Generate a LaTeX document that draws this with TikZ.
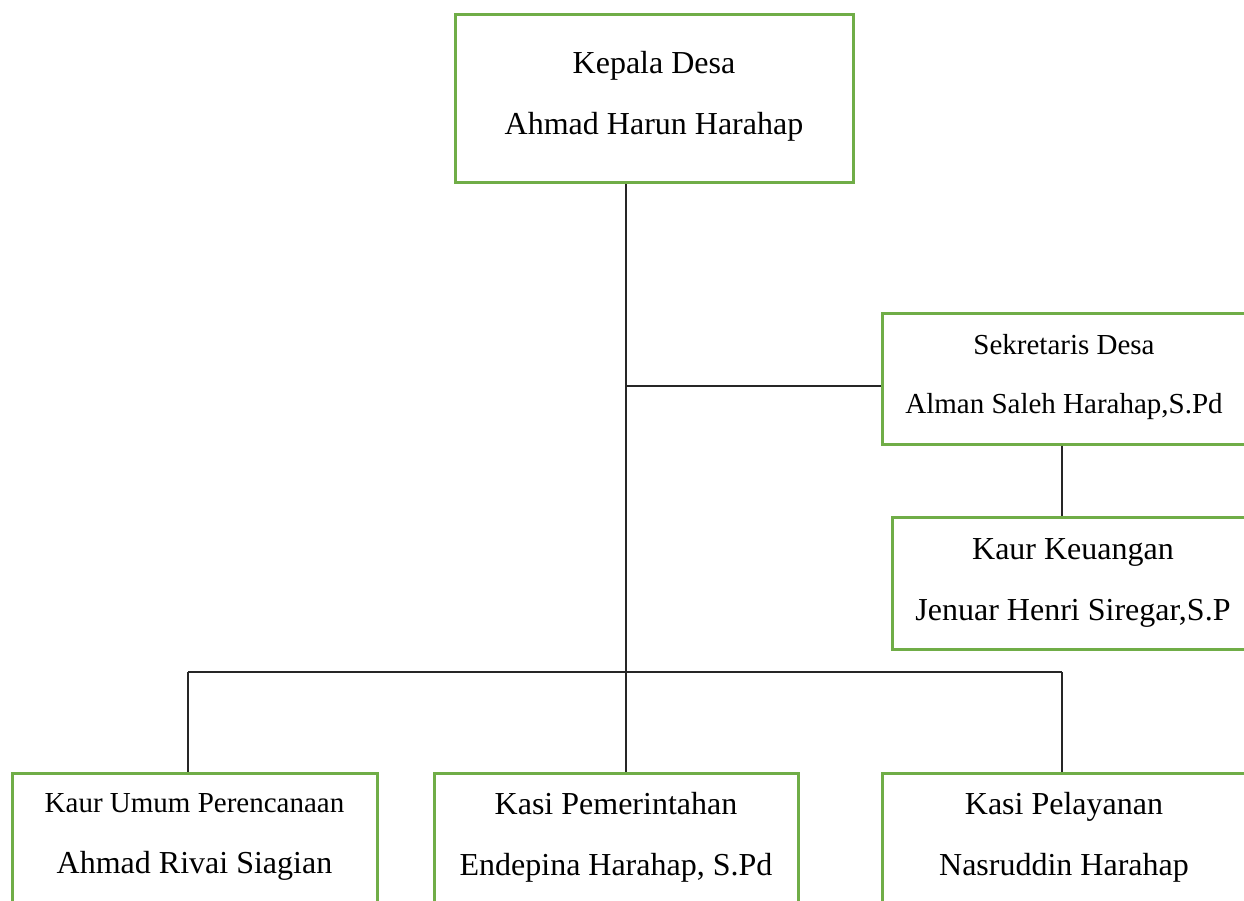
\documentclass[tikz,border=0pt]{standalone}
\usepackage{fontspec}
\setmainfont{Liberation Serif}
\usepackage{xcolor}
\definecolor{boxgreen}{HTML}{70AD47}
\usetikzlibrary{calc}

\newcommand{\bigtxt}{\fontsize{32}{61}\selectfont}
\newcommand{\smalltxt}{\fontsize{29}{59}\selectfont}

\begin{document}
\begin{tikzpicture}[x=1pt,y=-1pt,
  unitbox/.style={draw=boxgreen,line width=3pt,rectangle,align=center,inner sep=0pt},
  link/.style={line width=1.5pt,black!85}]
\useasboundingbox (0,0) rectangle (1244,901);
\clip (0,0) rectangle (1244,901);

\node[unitbox,minimum width=398pt,minimum height=168pt,text depth=12pt,font=\bigtxt] (kades) at (654,99) {Kepala Desa\\Ahmad Harun Harahap};

\node[unitbox,minimum width=364pt,minimum height=131pt,text depth=10pt,font=\smalltxt] (sekdes) at (1064,378.5) {Sekretaris Desa\\Alman Saleh Harahap,S.Pd};
\node[unitbox,minimum width=362pt,minimum height=132pt,text depth=7pt,font=\bigtxt] (keu) at (1073,583) {Kaur Keuangan\\Jenuar Henri Siregar,S.P};

\node[unitbox,minimum width=365pt,minimum height=130pt,text depth=9pt,font=\bigtxt] (kaurum) at (194.5,838) {{\smalltxt Kaur Umum Perencanaan}\\Ahmad Rivai Siagian};
\node[unitbox,minimum width=364pt,minimum height=130pt,text depth=9pt,font=\bigtxt] (kasipem) at (616,838) {Kasi Pemerintahan\\Endepina Harahap, S.Pd};
\node[unitbox,minimum width=364pt,minimum height=130pt,text depth=9pt,font=\bigtxt] (kasipel) at (1064,838) {Kasi Pelayanan\\Nasruddin Harahap};

% junction points
\coordinate (j1) at (626,386);
\coordinate (j2) at (626,672);
\coordinate (jl) at (188,672);
\coordinate (jr) at (1062,672);

\draw[link] (kades.south -| j2) -- (j2);
\draw[link] (j1) -- (sekdes.west |- j1);
\draw[link] (sekdes.south -| jr) -- (keu.north -| jr);

\draw[link] (jl) -- (jr);
\draw[link] (jl) -- (kaurum.north -| jl);
\draw[link] (j2) -- (kasipem.north -| j2);
\draw[link] (jr) -- (kasipel.north -| jr);
\end{tikzpicture}
\end{document}
